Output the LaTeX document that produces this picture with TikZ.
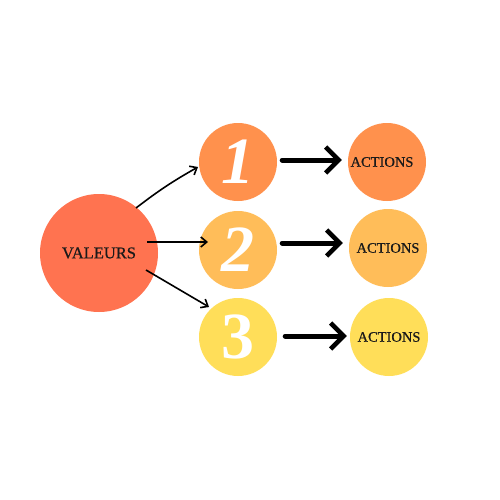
\documentclass[tikz,border=0pt]{standalone}
\usepackage{fontspec}
\setmainfont{Liberation Serif}
\usetikzlibrary{arrows.meta}
\definecolor{cval}{HTML}{FF7350}
\definecolor{cone}{HTML}{FF914D}
\definecolor{ctwo}{HTML}{FFBD59}
\definecolor{cthree}{HTML}{FFDE59}
\definecolor{ink}{HTML}{1A1A1A}
\tikzset{
  bubble/.style={circle, inner sep=0pt, minimum size=#1},
  digit/.style={text=white, font=\fontsize{66}{66}\selectfont\bfseries\itshape},
  acttext/.style={text=ink, font=\fontsize{14.5}{15}\selectfont\addfontfeature{FakeBold=0.6}},
  thin arrow/.style={-{Straight Barb[length=6pt,width=10pt,line width=1.6pt]}, line width=1.6pt, black},
  thick arrow/.style={-{Straight Barb[length=13pt,width=26pt,line width=4.5pt]}, line width=5pt, line cap=round, black}
}
\begin{document}
\begin{tikzpicture}[x=1pt,y=-1pt]
\useasboundingbox (0,0) rectangle (500,500);
\node[bubble=118pt, fill=cval, text=ink, font=\fontsize{16.5}{17}\selectfont\addfontfeature{FakeBold=0.6}] (val) at (99,253) {VALEURS};
\node[bubble=78pt, fill=cone, digit] (n1) at (238,162) {1};
\node[bubble=78pt, fill=ctwo, digit] (n2) at (238,250) {2};
\node[bubble=78pt, fill=cthree, digit, font=\fontsize{66}{66}\selectfont\bfseries] (n3) at (238,337) {3};
\node[bubble=78pt, fill=cone] (a1) at (387,162) {};
\node[acttext] (t1) at (382,162) {ACTIONS};
\node[bubble=78pt, fill=ctwo, acttext] (a2) at (388,248) {ACTIONS};
\node[bubble=78pt, fill=cthree, acttext] (a3) at (389,337) {ACTIONS};
\coordinate (s1) at (136,208);
\coordinate (e1) at (198,167);
\coordinate (s2) at (147,242);
\coordinate (e2) at (208,242);
\coordinate (s3) at (146,270);
\coordinate (e3) at (209,307);
\draw[thin arrow] (s1) to[bend left=4] (e1);
\draw[thin arrow] (s2) -- (e2);
\draw[thin arrow] (s3) -- (e3);
\draw[thick arrow] ([xshift=5pt]n1.east |- 0,160) -- ([xshift=-6pt]a1.west |- 0,160);
\draw[thick arrow] ([xshift=5pt]n2.east |- 0,243) -- ([xshift=-6pt]a2.west |- 0,243);
\draw[thick arrow] ([xshift=8pt]n3.east |- 0,336) -- ([xshift=-3pt]a3.west |- 0,336);
\end{tikzpicture}
\end{document}
